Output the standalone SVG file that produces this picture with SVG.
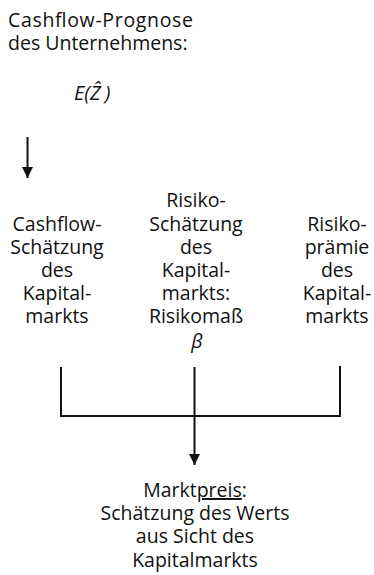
<svg xmlns="http://www.w3.org/2000/svg" width="374" height="575" viewBox="0 0 374 575">
<style>
text{font-family:"Open Sans","Noto Sans","DejaVu Sans",sans-serif;font-size:19.5px;fill:#111}
.c{text-anchor:middle}
.i{font-style:italic}
.ln{fill:none;stroke:#111;stroke-width:2}
</style>
<defs>
<marker id="ah" markerUnits="userSpaceOnUse" markerWidth="12" markerHeight="12" viewBox="0 0 12 12" refX="11" refY="6" orient="auto">
<path d="M0,0.5 L11,6 L0,11.5 Z" fill="#111"/>
</marker>
</defs>
<rect width="374" height="575" fill="#fff"/>
<g id="prognose">
<text x="8" y="27" textLength="185" lengthAdjust="spacing">Cashflow-Prognose</text>
<text x="8" y="50">des Unternehmens:</text>
<text x="74" y="100" class="i" style="font-size:20px">E(Ẑ<tspan dx="4">)</tspan></text>
</g>
<g id="cashflow-schaetzung">
<text class="c" x="57" y="231">Cashflow-</text>
<text class="c" x="57" y="254">Schätzung</text>
<text class="c" x="57" y="277">des</text>
<text class="c" x="57" y="300">Kapital-</text>
<text class="c" x="57" y="323">markts</text>
</g>
<g id="risiko-schaetzung">
<text class="c" x="196" y="207">Risiko-</text>
<text class="c" x="196" y="231">Schätzung</text>
<text class="c" x="196" y="254">des</text>
<text class="c" x="196" y="277">Kapital-</text>
<text class="c" x="196" y="300">markts:</text>
<text class="c" x="196" y="323">Risikomaß</text>
<text class="c i" x="197" y="348">β</text>
</g>
<g id="risikopraemie">
<text class="c" x="337" y="231">Risiko-</text>
<text class="c" x="337" y="254">prämie</text>
<text class="c" x="337" y="277">des</text>
<text class="c" x="337" y="300">Kapital-</text>
<text class="c" x="337" y="323">markts</text>
</g>
<g id="marktpreis">
<text class="c" x="195" y="497">Markt<tspan text-decoration="underline">preis</tspan>:</text>
<text class="c" x="195" y="520">Schätzung des Werts</text>
<text class="c" x="195" y="543">aus Sicht des</text>
<text class="c" x="195" y="567">Kapitalmarkts</text>
</g>
<g id="connectors">
<line class="ln" x1="27.5" y1="137" x2="27.5" y2="178" marker-end="url(#ah)"/>
<path class="ln" d="M61,367 V416 H340 V366"/>
<line class="ln" x1="194.5" y1="367" x2="194.5" y2="465" marker-end="url(#ah)"/>
</g>
</svg>
